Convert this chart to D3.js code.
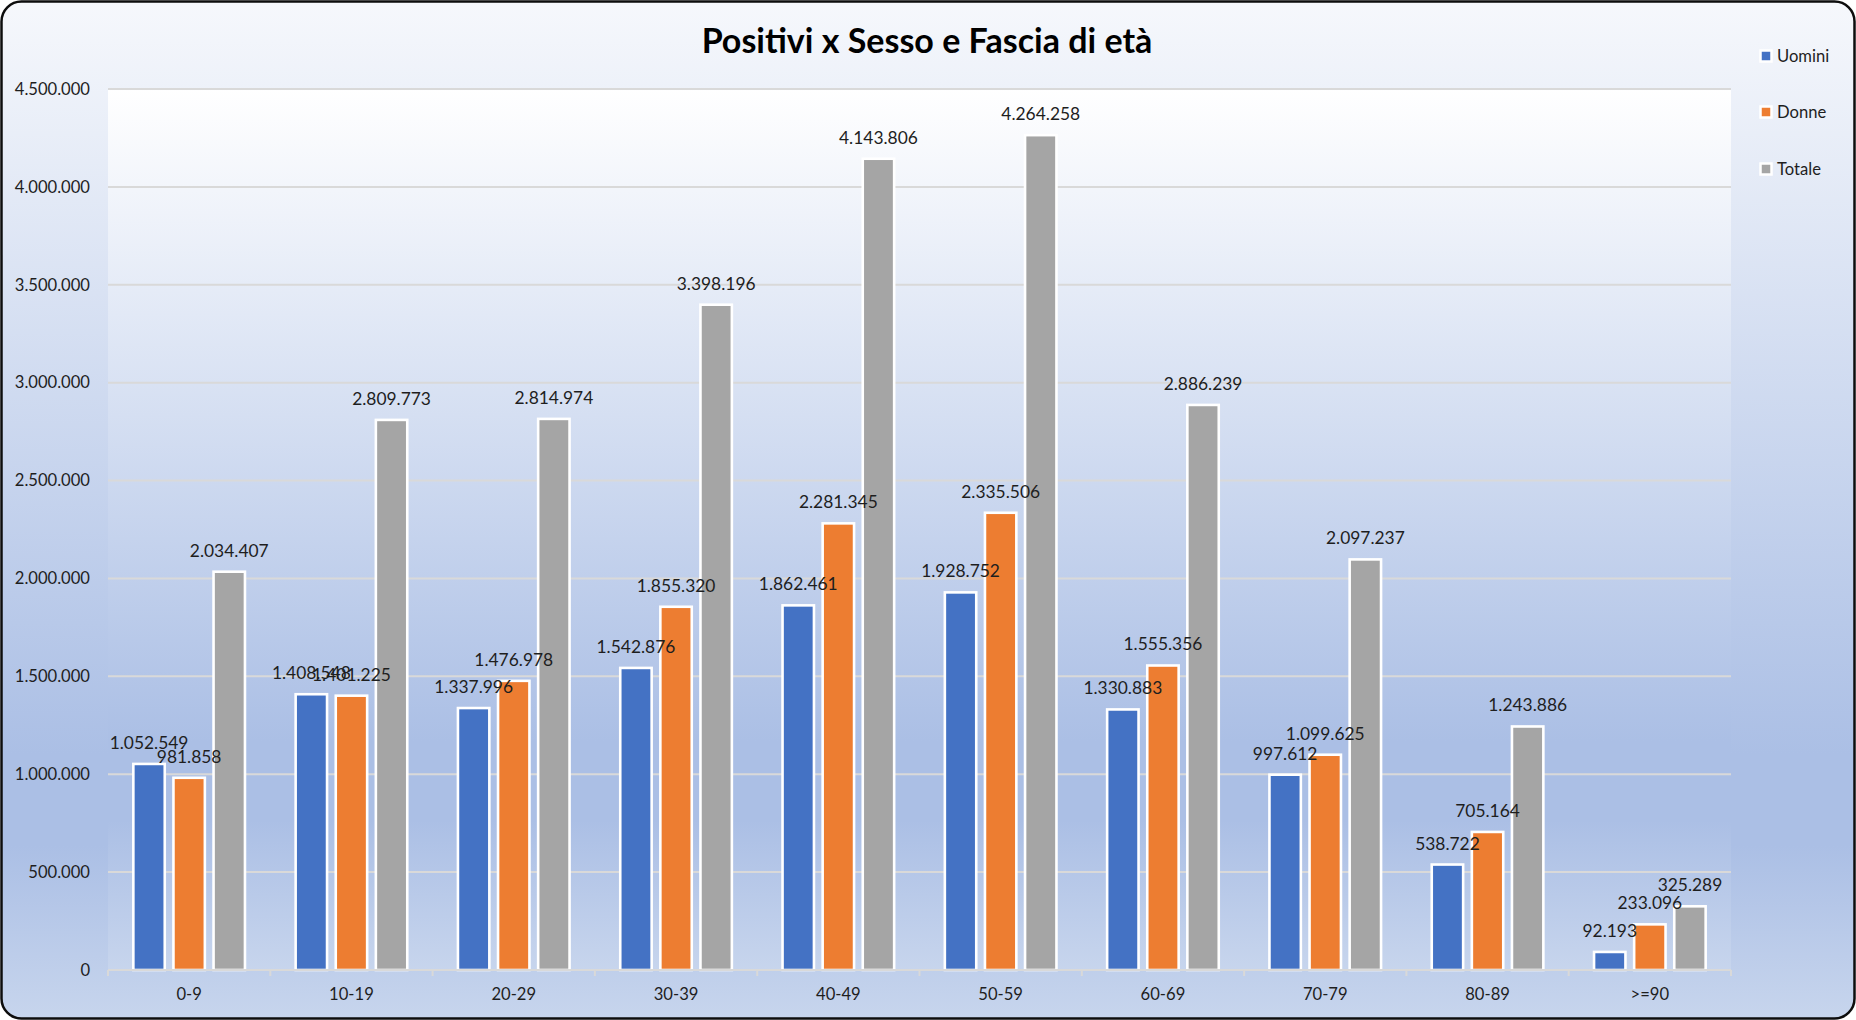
<!DOCTYPE html>
<html>
<head>
<meta charset="utf-8">
<script src="https://cdn.jsdelivr.net/npm/d3@7"></script>
<style>
  html, body { margin: 0; padding: 0; background: #ffffff; }
  svg { display: block; }
  text { font-family: Lato, "Open Sans", "Liberation Sans", sans-serif; }
</style>
</head>
<body>
<svg id="chart" width="1856" height="1020"></svg>
<script>
// ---- data ----
const title = "Positivi x Sesso e Fascia di età";
const categories = ["0-9", "10-19", "20-29", "30-39", "40-49", "50-59", "60-69", "70-79", "80-89", ">=90"];
const seriesNames = ["Uomini", "Donne", "Totale"];
const uomini = [1052549, 1408548, 1337996, 1542876, 1862461, 1928752, 1330883, 997612, 538722, 92193];
const donne  = [981858, 1401225, 1476978, 1855320, 2281345, 2335506, 1555356, 1099625, 705164, 233096];
const totale = [2034407, 2809773, 2814974, 3398196, 4143806, 4264258, 2886239, 2097237, 1243886, 325289];
const yTicks = [0, 500000, 1000000, 1500000, 2000000, 2500000, 3000000, 3500000, 4000000, 4500000];
const seriesColors = ["#4472C4", "#ED7D31", "#A5A5A5"];

// ---- layout ----
const W = 1856, H = 1020;
const plot = { left: 108, right: 1731, top: 89, bottom: 970 };
const fontSize = 16.6;
const valueFontSize = 17.4;
const textColor = "#1e1e1e";

const locale = d3.formatLocale({ decimal: ",", thousands: ".", grouping: [3], currency: ["€", ""] });
const fmt = locale.format(",d");

const svg = d3.select("#chart");
const defs = svg.append("defs");

function addGradient(id, stops) {
  const g = defs.append("linearGradient").attr("id", id)
    .attr("x1", 0).attr("y1", 0).attr("x2", 0).attr("y2", 1);
  stops.forEach(([o, c]) => g.append("stop").attr("offset", o).attr("stop-color", c));
}
addGradient("bgGrad", [["0%", "#F6F8FC"], ["74%", "#ABBFE5"], ["83%", "#ABBFE5"], ["100%", "#C7D5ED"]]);
addGradient("plotGrad", [["0%", "#FFFFFF"], ["74%", "#ABBFE5"], ["83%", "#ABBFE5"], ["100%", "#C7D5ED"]]);

// chart area
svg.append("rect")
  .attr("x", 1.5).attr("y", 1.5).attr("width", W - 3).attr("height", H - 3)
  .attr("rx", 20).attr("ry", 20)
  .attr("fill", "url(#bgGrad)")
  .attr("stroke", "#0d0d0d").attr("stroke-width", 2.5);

// plot area
svg.append("rect")
  .attr("x", plot.left).attr("y", plot.top)
  .attr("width", plot.right - plot.left).attr("height", plot.bottom - plot.top)
  .attr("fill", "url(#plotGrad)");

// scales
const y = d3.scaleLinear().domain([0, 4500000]).range([plot.bottom, plot.top]);
const x0 = d3.scaleBand().domain(categories).range([plot.left, plot.right]).paddingInner(0).paddingOuter(0);
const x1 = d3.scaleBand().domain(seriesNames).range([0, x0.bandwidth()]).paddingInner(0.217).paddingOuter(0.632);

// gridlines
svg.append("g").selectAll("line").data(yTicks.filter(d => d > 0)).join("line")
  .attr("x1", plot.left).attr("x2", plot.right)
  .attr("y1", d => y(d)).attr("y2", d => y(d))
  .attr("stroke", "#D9D9D9").attr("stroke-width", 2);

// y axis labels
const yAxis = svg.append("g").attr("transform", `translate(${plot.left},0)`)
  .call(d3.axisLeft(y).tickValues(yTicks).tickSize(0).tickPadding(18).tickFormat(fmt));
yAxis.select(".domain").remove();
yAxis.selectAll("text").attr("font-size", fontSize).attr("fill", textColor)
  .style("font-family", "Lato, 'Open Sans', sans-serif");

// bars
const seriesData = [uomini, donne, totale];
const flat = [];
seriesNames.forEach((s, si) => categories.forEach((c, ci) => flat.push({ c, s, si, v: seriesData[si][ci] })));

svg.append("g").selectAll("rect").data(flat).join("rect")
  .attr("x", d => x0(d.c) + x1(d.s))
  .attr("width", x1.bandwidth())
  .attr("y", d => y(d.v))
  .attr("height", d => y(0) - y(d.v))
  .attr("fill", d => seriesColors[d.si])
  .attr("stroke", "#FFFFFF").attr("stroke-width", 2.6);

// x axis line + ticks
svg.append("line")
  .attr("x1", plot.left).attr("x2", plot.right)
  .attr("y1", y(0)).attr("y2", y(0))
  .attr("stroke", "#D9D9D9").attr("stroke-width", 2);
const boundaries = categories.map(c => x0(c)).concat([x0(categories[categories.length - 1]) + x0.bandwidth()]);
svg.append("g").selectAll("line").data(boundaries).join("line")
  .attr("x1", d => d).attr("x2", d => d)
  .attr("y1", y(0)).attr("y2", y(0) + 6)
  .attr("stroke", "#D9D9D9").attr("stroke-width", 2);

const xAxis = svg.append("g").attr("transform", `translate(0,${y(0)})`)
  .call(d3.axisBottom(x0).tickSize(0).tickPadding(18));
xAxis.select(".domain").remove();
xAxis.selectAll("text").attr("font-size", fontSize).attr("fill", textColor)
  .style("font-family", "Lato, 'Open Sans', sans-serif");

// value labels (drawn above all bars)
svg.append("g").selectAll("text").data(flat).join("text")
  .attr("x", d => x0(d.c) + x1(d.s) + x1.bandwidth() / 2)
  .attr("y", d => y(d.v) - 15)
  .attr("text-anchor", "middle")
  .attr("font-size", valueFontSize)
  .attr("fill", textColor)
  .text(d => fmt(d.v));

// title
svg.append("text")
  .attr("x", 927).attr("y", 53)
  .attr("text-anchor", "middle")
  .attr("font-size", 34).attr("font-weight", "bold")
  .attr("fill", "#000000")
  .text(title);

// legend
const legendY = [56, 112, 169];
const legend = svg.append("g").selectAll("g").data(seriesNames).join("g")
  .attr("transform", (d, i) => `translate(1759,${legendY[i]})`);
legend.append("rect")
  .attr("x", 1.5).attr("y", -5.5).attr("width", 11).attr("height", 11)
  .attr("fill", (d, i) => seriesColors[i])
  .attr("stroke", "#FFFFFF").attr("stroke-width", 2.5);
legend.append("text")
  .attr("x", 18).attr("y", 0).attr("dy", "0.35em")
  .attr("font-size", fontSize).attr("fill", textColor)
  .text(d => d);
</script>
</body>
</html>
